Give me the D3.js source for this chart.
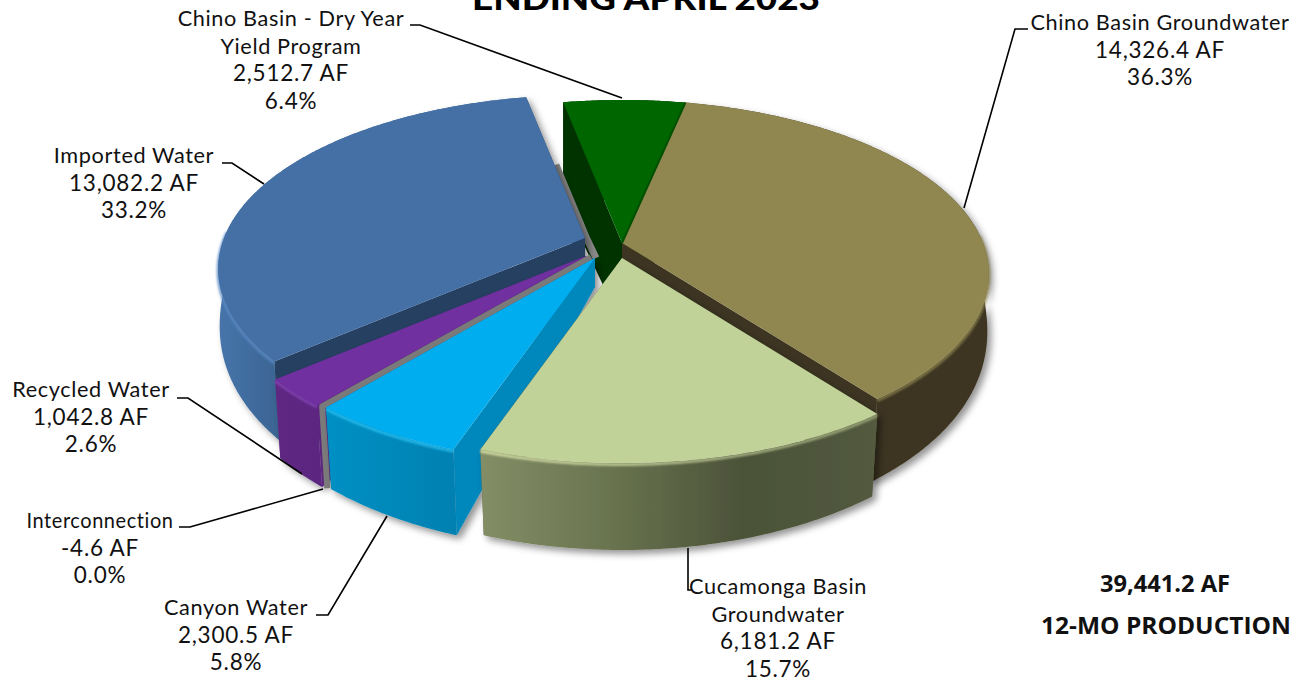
<!DOCTYPE html>
<html><head><meta charset="utf-8">
<style>html,body{margin:0;padding:0;background:#fff;overflow:hidden}
text{font-family:Lato,"Open Sans",sans-serif;fill:#111}</style>
<script src="https://cdn.jsdelivr.net/npm/d3@7/dist/d3.min.js"></script>
</head><body><svg id="c" width="1305" height="682"></svg>
<script>
// ---- data
const categories = ["Chino Basin Groundwater","Cucamonga Basin Groundwater","Canyon Water","Interconnection","Recycled Water","Imported Water","Chino Basin - Dry Year Yield Program"];
const acreFeet   = [14326.4, 6181.2, 2300.5, -4.6, 1042.8, 13082.2, 2512.7];
const percents   = ["36.3%","15.7%","5.8%","0.0%","2.6%","33.2%","6.4%"];
const labelLines = [["Chino Basin Groundwater"],["Cucamonga Basin","Groundwater"],["Canyon Water"],["Interconnection"],["Recycled Water"],["Imported Water"],["Chino Basin - Dry Year","Yield Program"]];
const titleText = "ENDING APRIL 2023";
const totalText = ["39,441.2 AF","12-MO PRODUCTION"];

// ---- styles
const topColors  = ["#8f8650","#c0d298","#00aeef","#7a7a7a","#7030a0","#4470a6","#006600"];
const sideColors = ["#3d3620","#5d6748","#0087bb","#7a7a7a","#5c2680","#263f62","#003300"];
const wallStops  = [
  ["#3d3620","#3d3620"],
  ["#838e66","#69734f","#4b5238","#525a3e"],
  ["#0090c4","#0080b0"],
  ["#7a7a7a","#7a7a7a"],
  ["#5e2782","#5c2680"],
  ["#4674aa","#3a6492"],
  ["#003300","#003300"]];
const rimColors  = ["#8f8650","url(#rimG)","#2cc4f8","#7a7a7a","#8a48bc","#5a8cc8","#006600"];

// ---- layout
const W=1305,H=682;
const startDeg=11.9;
const persp={A:361,B:168.5,k:0.178};
const explode=[[0,0],[0,15],[-27,15],[-31,14],[-36,13],[-37,-5],[0,0]];
const origin=[622,243];
const paintOrder=[6,0,5,4,3,2,1];
const apexDrop=[29,29,29,29,29,29,82];
const farDrop=[18,18,18,18,18,18,55];
const labelPos=[
 {x:1160,y:30,leader:[[1028,29],[1015,29],[964,208]]},
 {x:778,y:594,leader:[[692,590],[688,590],[688,548]]},
 {x:236,y:615,leader:[[316,615],[328,615],[387,516]]},
 {x:100,y:528,fit:147,leader:[[179,527],[190,527],[323,489]]},
 {x:91,y:397,leader:[[177,398],[188,398],[302,474]]},
 {x:134,y:163,leader:[[222,163],[232,163],[264,184]]},
 {x:291,y:26,leader:[[410,25],[420,25],[622,98]]}];
const lineGap=27.7;

const svg=d3.select("#c");
const defs=svg.append("defs");
const shadow=defs.append("filter").attr("id","sh").attr("x","-10%").attr("y","-10%").attr("width","125%").attr("height","125%");
shadow.append("feDropShadow").attr("dx",4).attr("dy",4).attr("stdDeviation",3.5).attr("flood-color","#000").attr("flood-opacity",.42);
defs.append("filter").attr("id","bl").attr("x","-5%").attr("y","-20%").attr("width","110%").attr("height","140%")
  .append("feGaussianBlur").attr("stdDeviation",.9);
const rimG=defs.append("linearGradient").attr("id","rimG").attr("gradientUnits","userSpaceOnUse").attr("x1",480).attr("x2",875).attr("y1",0).attr("y2",0);
rimG.append("stop").attr("offset",0).attr("stop-color","#e6f0b4");
rimG.append("stop").attr("offset",1).attr("stop-color","#a4b080");

const pie=d3.pie().value(d=>Math.abs(d)).sort(null)
  .startAngle(startDeg*Math.PI/180).endAngle(startDeg*Math.PI/180+2*Math.PI);
const arcs=pie(acreFeet);
const line=d3.line();

function topPt(i,a,r){
  const Z=r*Math.cos(a),X=r*Math.sin(a),s=1+persp.k*Z;
  return [origin[0]+explode[i][0]+persp.A*X/s, origin[1]+explode[i][1]-persp.B*Z/s];
}
function bottomPt(i,a,r){
  const p=topPt(i,a,r),cx=origin[0]+explode[i][0],c=Math.cos(a);
  const rimDrop=c<0 ? 45+42*Math.sqrt(-c) : 45+farDrop[i]*c;
  const shrink=1-0.025*r*Math.max(0,-c);
  return [cx+(p[0]-cx)*shrink,p[1]+apexDrop[i]+r*(rimDrop-apexDrop[i])];
}
function samples(d){
  const n=Math.max(2,Math.ceil((d.endAngle-d.startAngle)/0.01));
  const s=d3.scaleLinear().domain([0,n]).range([d.startAngle,d.endAngle]);
  return d3.range(n+1).map(s);
}
const closed=pts=>line(pts)+"Z";

arcs.forEach((d,i)=>{
  const stops=wallStops[i];
  const g=defs.append("linearGradient").attr("id","w"+i).attr("gradientUnits","userSpaceOnUse")
    .attr("x1",i==1?480:220).attr("x2",i==1?875:460).attr("y1",0).attr("y2",0);
  if(i==2){g.attr("x1",325).attr("x2",460);}
  if(i==4){g.attr("x1",275).attr("x2",325);}
  if(i==5){g.attr("x1",220).attr("x2",280);}
  if(i==0||i==6){g.attr("x1",0).attr("x2",W);}
  stops.forEach((c,j)=>g.append("stop").attr("offset",j/(stops.length-1)).attr("stop-color",c));
});

const chart=svg.append("g");
paintOrder.forEach(i=>{
  const d=arcs[i],as=samples(d);
  if(i===3){ // the near-zero Interconnection wedge is a thin grey sliver
    const a=d.startAngle;
    chart.append("path").attr("d",line([topPt(i,a,0),topPt(i,a,1),bottomPt(i,a,1)]))
      .attr("fill","none").attr("stroke",topColors[i]).attr("stroke-width",6).attr("stroke-linejoin","round");
    return;
  }
  if(i===5){ // grey contact shadow beside Imported Water's far edge
    const a=d.endAngle,p=topPt(i,a,.48),q=topPt(i,a,0);
    chart.append("path").attr("d",line([[p[0]+1.5,p[1]],[q[0]+1.5,q[1]],[q[0]+11,q[1]+20]]))
      .attr("fill","none").attr("stroke","#8a8a8a").attr("stroke-width",7);
  }
  const g=chart.append("g");
  const solid=g.append("g").attr("filter",i===6?null:"url(#sh)");
  [d.startAngle,d.endAngle].forEach(a=>{
    solid.append("path").attr("d",closed([topPt(i,a,0),topPt(i,a,1),bottomPt(i,a,1),bottomPt(i,a,0)])).attr("fill",sideColors[i]);
  });
  solid.append("path").attr("d",closed(as.map(a=>topPt(i,a,1)).concat(as.slice().reverse().map(a=>bottomPt(i,a,1)))))
    .attr("fill",`url(#w${i})`);
  // bevel highlight along the near rim
  const front=as.filter(a=>Math.cos(a)<0.05);
  if(front.length>1){
    g.append("path").attr("d",line(front.map(a=>{const p=topPt(i,a,1);return [p[0],p[1]+1.5];})))
      .attr("fill","none").attr("stroke",rimColors[i]).attr("stroke-width",3).attr("stroke-opacity",.8).attr("filter","url(#bl)");
  }
  g.append("path").attr("d",closed([topPt(i,d.startAngle,0)].concat(as.map(a=>topPt(i,a,1)))))
    .attr("fill",topColors[i]);
  if(i===0){ // darker bevel where the Dry Year wedge meets Chino Basin Groundwater
    const a=d.startAngle;
    g.append("path").attr("d",line([topPt(i,a,0),topPt(i,a,1)]))
      .attr("fill","none").attr("stroke","#005000").attr("stroke-width",2);
  }
});

// leaders
labelPos.forEach(l=>{
  svg.append("path").attr("d",line(l.leader)).attr("fill","none").attr("stroke","#000").attr("stroke-width",1.6);
});

// labels
const fmt=d3.format(",.1f");
labelPos.forEach((l,i)=>{
  const lines=labelLines[i].concat([fmt(acreFeet[i]).replace("\u2212","-")+" AF",percents[i]]);
  lines.forEach((t,j)=>{
    const isName=j<labelLines[i].length;
    const el=svg.append("text").attr("x",l.x).attr("y",l.y+j*lineGap).attr("text-anchor","middle")
      .attr("font-size",isName?21.7:22.5).attr("letter-spacing",isName?.62:.75).text(t);
    if(l.fit&&j===0) el.attr("textLength",l.fit).attr("lengthAdjust","spacingAndGlyphs");
  });
});

// title and total
svg.append("text").attr("x",646).attr("y",10).attr("text-anchor","middle")
  .attr("font-size",32).attr("font-weight",900).attr("textLength",348).attr("lengthAdjust","spacingAndGlyphs").style("fill","#000").text(titleText);
svg.append("text").attr("x",1165).attr("y",592).attr("text-anchor","middle").attr("font-size",23)
  .attr("font-weight",700).attr("textLength",130).attr("lengthAdjust","spacingAndGlyphs").style("font-family","'Open Sans'").text(totalText[0]);
svg.append("text").attr("x",1166).attr("y",634).attr("text-anchor","middle").attr("font-size",23)
  .attr("font-weight",700).attr("textLength",250).attr("lengthAdjust","spacingAndGlyphs").style("font-family","'Open Sans'").text(totalText[1]);
</script></body></html>
